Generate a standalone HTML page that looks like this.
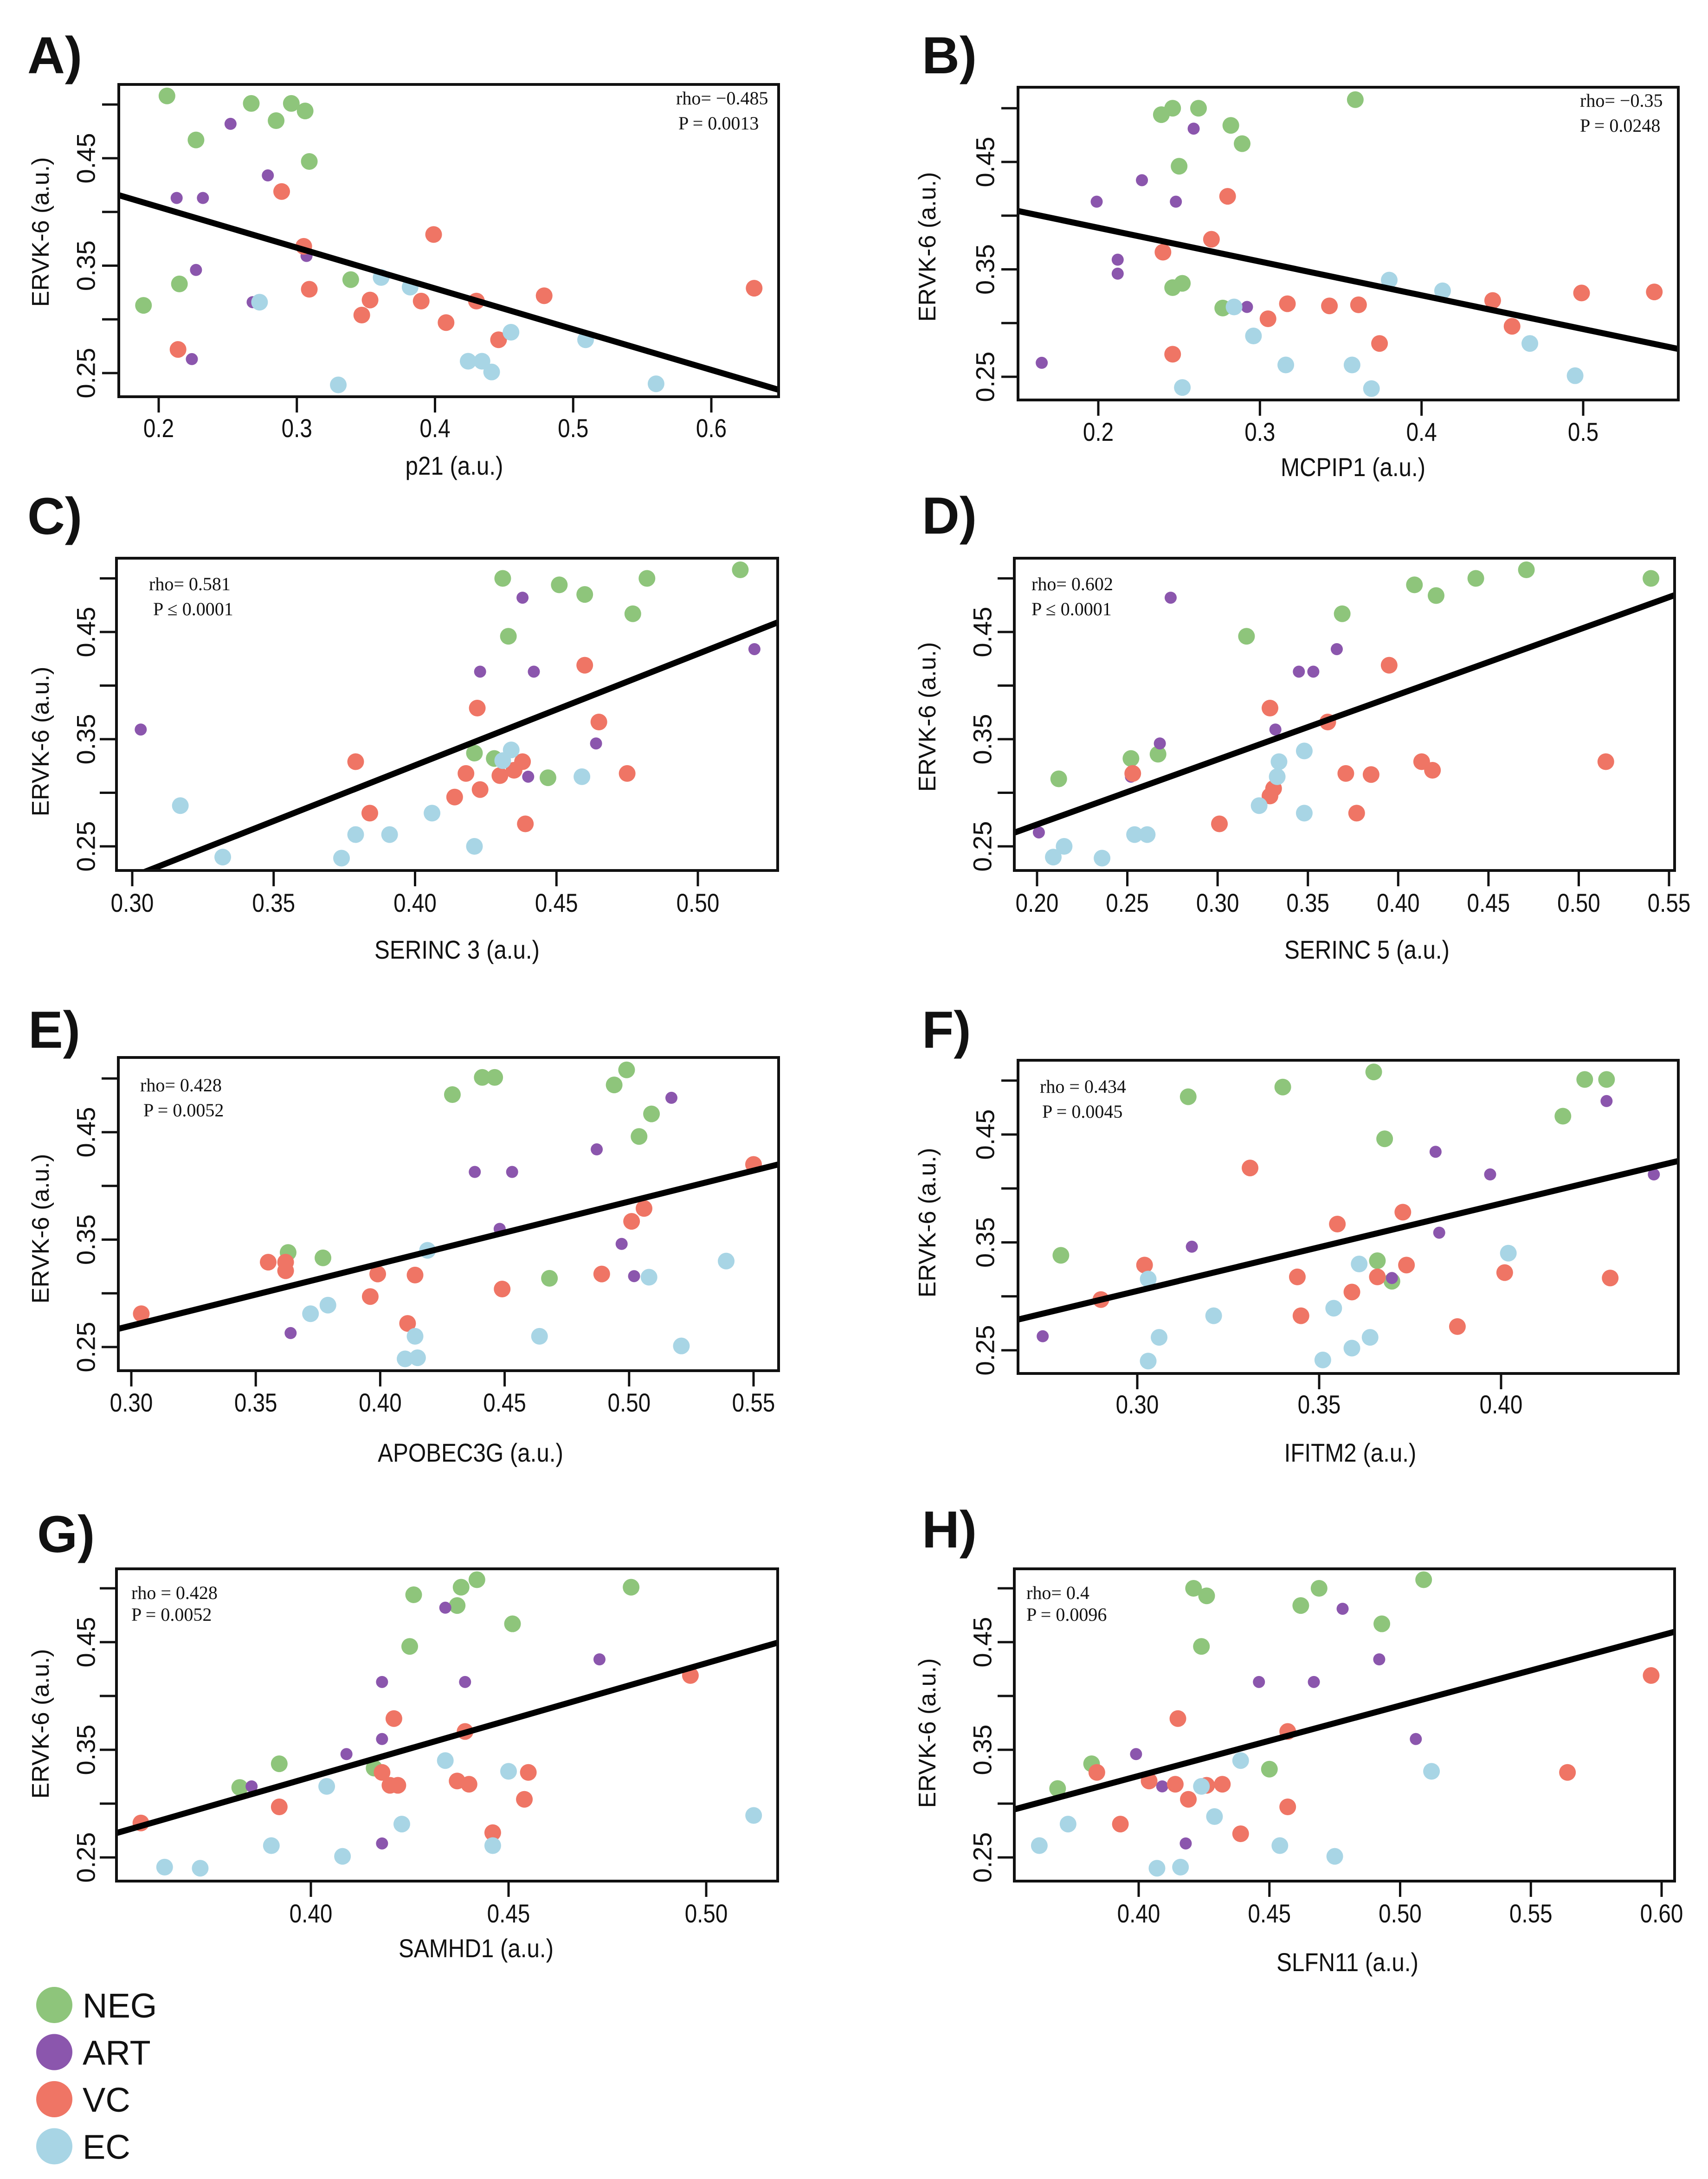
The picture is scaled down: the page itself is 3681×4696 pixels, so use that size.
<!DOCTYPE html>
<html><head><meta charset="utf-8"><style>
html,body{margin:0;padding:0;background:#fff}
svg{display:block}
text{font-family:"Liberation Sans",Arial,sans-serif;fill:#111}
.serif{font-family:"Liberation Serif","Times New Roman",serif}
</style></head><body>
<svg id="fig" xmlns="http://www.w3.org/2000/svg" width="3681" height="4696" viewBox="0 0 3681 4696"></svg>
<script>
// group of each subject (same order in every panel): NEG x10, ART x8, VC x13, EC x10
const groups = ["NEG","NEG","NEG","NEG","NEG","NEG","NEG","NEG","NEG","NEG",
 "ART","ART","ART","ART","ART","ART","ART","ART",
 "VC","VC","VC","VC","VC","VC","VC","VC","VC","VC","VC","VC","VC",
 "EC","EC","EC","EC","EC","EC","EC","EC","EC","EC"];
const groupNames = ["NEG","ART","VC","EC"];
const groupColors = {NEG:"#8ec57b",ART:"#8b56ad",VC:"#ef7565",EC:"#a8d5e5"};

const yTicks = [0.25,0.30,0.35,0.40,0.45,0.50];
const yTickLabels = ["0.25","","0.35","","0.45",""];

const A_x = [0.206,0.267,0.296,0.306,0.285,0.227,0.309,0.339,0.215,0.189, 0.252,0.279,0.213,0.232,0.307,0.227,0.268,0.224, 0.289,0.399,0.305,0.309,0.353,0.390,0.430,0.479,0.631,0.347,0.408,0.446,0.214, 0.273,0.361,0.382,0.455,0.509,0.424,0.434,0.441,0.330,0.560];
const A_y = [0.508,0.501,0.501,0.494,0.485,0.467,0.447,0.337,0.333,0.313, 0.482,0.434,0.413,0.413,0.359,0.346,0.316,0.263, 0.419,0.379,0.368,0.328,0.318,0.317,0.317,0.322,0.329,0.304,0.297,0.281,0.272, 0.316,0.339,0.330,0.288,0.281,0.261,0.261,0.251,0.239,0.240];
const B_x = [0.359,0.246,0.262,0.239,0.282,0.289,0.250,0.252,0.246,0.277, 0.259,0.227,0.199,0.248,0.212,0.212,0.292,0.165, 0.280,0.270,0.240,0.317,0.343,0.361,0.444,0.499,0.544,0.305,0.456,0.374,0.246, 0.284,0.380,0.413,0.296,0.467,0.316,0.357,0.495,0.252,0.369];
const B_y = [0.508,0.500,0.500,0.494,0.484,0.467,0.446,0.337,0.333,0.314, 0.481,0.433,0.413,0.413,0.359,0.346,0.315,0.263, 0.418,0.378,0.366,0.318,0.316,0.317,0.321,0.328,0.329,0.304,0.297,0.281,0.271, 0.315,0.340,0.330,0.288,0.281,0.261,0.261,0.251,0.240,0.239];
const C_x = [0.515,0.431,0.482,0.451,0.460,0.477,0.433,0.421,0.428,0.447, 0.438,0.520,0.423,0.442,0.303,0.464,0.440,0.379, 0.460,0.422,0.465,0.379,0.438,0.435,0.418,0.430,0.475,0.423,0.414,0.384,0.439, 0.434,0.431,0.459,0.317,0.406,0.379,0.391,0.421,0.332,0.374];
const C_y = [0.508,0.500,0.500,0.494,0.485,0.467,0.446,0.337,0.332,0.314, 0.482,0.434,0.413,0.413,0.359,0.346,0.315,0.263, 0.419,0.379,0.366,0.329,0.329,0.321,0.318,0.316,0.318,0.303,0.296,0.281,0.271, 0.340,0.330,0.315,0.288,0.281,0.261,0.261,0.250,0.240,0.239];
const D_x = [0.471,0.443,0.540,0.409,0.421,0.369,0.316,0.267,0.252,0.212, 0.274,0.366,0.345,0.353,0.332,0.268,0.252,0.201, 0.395,0.329,0.361,0.413,0.515,0.419,0.371,0.385,0.253,0.331,0.329,0.377,0.301, 0.348,0.334,0.333,0.323,0.348,0.254,0.261,0.215,0.209,0.236];
const D_y = [0.508,0.500,0.500,0.494,0.484,0.467,0.446,0.336,0.332,0.313, 0.482,0.434,0.413,0.413,0.359,0.346,0.315,0.263, 0.419,0.379,0.366,0.329,0.329,0.321,0.318,0.317,0.318,0.304,0.297,0.281,0.271, 0.339,0.329,0.315,0.288,0.281,0.261,0.261,0.250,0.240,0.239];
const E_x = [0.499,0.441,0.446,0.494,0.429,0.509,0.504,0.363,0.377,0.468, 0.517,0.487,0.438,0.453,0.448,0.497,0.502,0.364, 0.550,0.506,0.501,0.355,0.362,0.362,0.399,0.414,0.489,0.449,0.396,0.411,0.304, 0.419,0.539,0.508,0.379,0.372,0.414,0.464,0.521,0.410,0.415];
const E_y = [0.508,0.501,0.501,0.494,0.485,0.467,0.446,0.338,0.333,0.314, 0.482,0.434,0.413,0.413,0.360,0.346,0.316,0.263, 0.420,0.379,0.367,0.329,0.329,0.321,0.318,0.317,0.318,0.304,0.297,0.272,0.281, 0.340,0.330,0.315,0.289,0.281,0.260,0.260,0.251,0.239,0.240];
const F_x = [0.365,0.340,0.423,0.429,0.314,0.417,0.368,0.279,0.366,0.370, 0.429,0.382,0.397,0.442,0.383,0.315,0.370,0.274, 0.331,0.373,0.355,0.302,0.374,0.401,0.430,0.344,0.366,0.359,0.290,0.345,0.388, 0.402,0.361,0.303,0.354,0.321,0.364,0.306,0.359,0.351,0.303];
const F_y = [0.508,0.494,0.501,0.501,0.485,0.467,0.446,0.338,0.333,0.314, 0.481,0.434,0.413,0.413,0.359,0.346,0.317,0.263, 0.419,0.378,0.367,0.329,0.329,0.322,0.317,0.318,0.318,0.304,0.297,0.282,0.272, 0.340,0.330,0.316,0.289,0.282,0.262,0.262,0.252,0.241,0.240];
const G_x = [0.442,0.438,0.481,0.426,0.437,0.451,0.425,0.392,0.416,0.382, 0.434,0.473,0.418,0.439,0.418,0.409,0.385,0.418, 0.496,0.421,0.439,0.418,0.455,0.437,0.440,0.420,0.422,0.454,0.392,0.357,0.446, 0.434,0.450,0.404,0.512,0.423,0.390,0.446,0.408,0.363,0.372];
const G_y = [0.508,0.501,0.501,0.494,0.484,0.467,0.446,0.337,0.333,0.315, 0.482,0.434,0.413,0.413,0.360,0.346,0.316,0.263, 0.419,0.379,0.367,0.329,0.329,0.321,0.318,0.317,0.317,0.304,0.297,0.282,0.273, 0.340,0.330,0.316,0.289,0.281,0.261,0.261,0.251,0.241,0.240];
const H_x = [0.509,0.421,0.469,0.426,0.462,0.493,0.424,0.382,0.450,0.369, 0.478,0.492,0.446,0.467,0.506,0.399,0.409,0.418, 0.596,0.415,0.457,0.384,0.564,0.404,0.414,0.426,0.432,0.419,0.457,0.393,0.439, 0.439,0.512,0.424,0.429,0.373,0.362,0.454,0.475,0.407,0.416];
const H_y = [0.508,0.500,0.500,0.493,0.484,0.467,0.446,0.337,0.332,0.314, 0.481,0.434,0.413,0.413,0.360,0.346,0.316,0.263, 0.419,0.379,0.367,0.329,0.329,0.321,0.318,0.317,0.318,0.304,0.297,0.281,0.272, 0.340,0.330,0.316,0.288,0.281,0.261,0.261,0.251,0.240,0.241];

// regression fits [intercept, slope]
const A_fit = [0.4805,-0.3793];
const B_fit = [0.4516,-0.3144];
const C_fit = [-0.0904,1.040];
const D_fit = [0.1492,0.606];
const E_fit = [0.0968,0.5772];
const F_fit = [0.0620,0.810];
const G_fit = [-0.0983,1.0574];
const H_fit = [0.0644,0.6533];

const A_xticks = [0.2,0.3,0.4,0.5,0.6];
const B_xticks = [0.2,0.3,0.4,0.5];
const C_xticks = [0.30,0.35,0.40,0.45,0.50];
const D_xticks = [0.20,0.25,0.30,0.35,0.40,0.45,0.50,0.55];
const E_xticks = [0.30,0.35,0.40,0.45,0.50,0.55];
const F_xticks = [0.30,0.35,0.40];
const G_xticks = [0.40,0.45,0.50];
const H_xticks = [0.40,0.45,0.50,0.55,0.60];

const stats = {
 A:["rho=  \u22120.485","P =  0.0013"], B:["rho=  \u22120.35","P =  0.0248"],
 C:["rho=  0.581","P \u2264 0.0001"], D:["rho=  0.602","P \u2264 0.0001"],
 E:["rho=  0.428","P =  0.0052"], F:["rho =  0.434","P =  0.0045"],
 G:["rho =  0.428","P =  0.0052"], H:["rho=  0.4"," P =  0.0096"]
};

const NS="http://www.w3.org/2000/svg";
const svg=document.getElementById('fig');
function mk(tag,attrs,parent){const e=document.createElementNS(NS,tag);for(const k in attrs)e.setAttribute(k,attrs[k]);(parent||svg).appendChild(e);return e;}

// layout (pixel calibration) per panel
const panels = [
 {id:"A",xs:A_x,ys:A_y,fit:A_fit,xt:A_xticks,dec:1,xlab:"p21 (a.u.)",frame:[256,182,1678,855],xc:[0.2,342,0.6,1533],yc:[0.25,804,0.45,341],lab:[59,158],ytl:185,yt:88,ytc:500,xtb:942,xlb:1023,xlc:979,st:[1457,225,1462,279],stA:"start"},
 {id:"B",xs:B_x,ys:B_y,fit:B_fit,xt:B_xticks,dec:1,xlab:"MCPIP1 (a.u.)",frame:[2194,188,3617,862],xc:[0.2,2367,0.5,3412],yc:[0.25,812,0.45,349],lab:[1987,158],ytl:2123,yt:1999,ytc:532,xtb:950,xlb:1026,xlc:2916,st:[3405,230,3405,284]},
 {id:"C",xs:C_x,ys:C_y,fit:C_fit,xt:C_xticks,dec:2,xlab:"SERINC 3 (a.u.)",frame:[251,1203,1676,1876],xc:[0.30,285,0.50,1504],yc:[0.25,1824,0.45,1362],lab:[59,1151],ytl:185,yt:88,ytc:1598,xtb:1965,xlb:2066,xlc:985,st:[321,1272,330,1326]},
 {id:"D",xs:D_x,ys:D_y,fit:D_fit,xt:D_xticks,dec:2,xlab:"SERINC 5 (a.u.)",frame:[2186,1203,3609,1876],xc:[0.20,2235,0.55,3597],yc:[0.25,1824,0.45,1362],lab:[1987,1150],ytl:2117,yt:1999,ytc:1545,xtb:1965,xlb:2066,xlc:2946,st:[2223,1272,2223,1326]},
 {id:"E",xs:E_x,ys:E_y,fit:E_fit,xt:E_xticks,dec:2,xlab:"APOBEC3G (a.u.)",frame:[255,2279,1678,2954],xc:[0.30,283,0.55,1624],yc:[0.25,2903,0.45,2440],lab:[61,2258],ytl:185,yt:88,ytc:2648,xtb:3042,xlb:3150,xlc:1014,st:[302,2352,309,2406]},
 {id:"F",xs:F_x,ys:F_y,fit:F_fit,xt:F_xticks,dec:2,xlab:"IFITM2 (a.u.)",frame:[2194,2285,3617,2960],xc:[0.30,2451,0.40,3235],yc:[0.25,2910,0.45,2445],lab:[1987,2258],ytl:2123,yt:1999,ytc:2635,xtb:3046,xlb:3150,xlc:2910,st:[2241,2355,2246,2409]},
 {id:"G",xs:G_x,ys:G_y,fit:G_fit,xt:G_xticks,dec:2,xlab:"SAMHD1 (a.u.)",frame:[251,3381,1676,4054],xc:[0.40,670,0.50,1522],yc:[0.25,4003,0.45,3539],lab:[80,3345],ytl:185,yt:88,ytc:3715,xtb:4143,xlb:4218,xlc:1026,st:[283,3446,283,3493]},
 {id:"H",xs:H_x,ys:H_y,fit:H_fit,xt:H_xticks,dec:2,xlab:"SLFN11 (a.u.)",frame:[2186,3381,3609,4054],xc:[0.40,2454,0.60,3581],yc:[0.25,4003,0.45,3539],lab:[1987,3335],ytl:2117,yt:1999,ytc:3735,xtb:4143,xlb:4248,xlc:2904,st:[2212,3446,2212,3493]}
];

panels.forEach(p=>{
 const g=mk('g',{});
 
 
 const sx=v=>p.xc[1]+(v-p.xc[0])*(p.xc[3]-p.xc[1])/(p.xc[2]-p.xc[0]);
 const sy=v=>p.yc[1]+(v-p.yc[0])*(p.yc[3]-p.yc[1])/(p.yc[2]-p.yc[0]);
 const [l,t,r,b]=p.frame;
 // panel letter
 const pl=mk('text',{x:p.lab[0],y:p.lab[1],'font-size':112,'font-weight':'bold'},g);
 pl.textContent=p.id+")";
 
 
 // clip
 const cp=mk('clipPath',{id:'clip'+p.id},g);
 mk('rect',{x:l,y:t,width:r-l,height:b-t},cp);
 // y ticks
 yTicks.forEach((v,i)=>{
  const tk=mk('line',{x1:l-36,x2:l,y1:sy(v),y2:sy(v),stroke:'#111','stroke-width':5},g);
  
  
  if(yTickLabels[i]){
   const tl=mk('text',{x:p.ytl,y:sy(v),'font-size':56,'text-anchor':'middle','dominant-baseline':'central',transform:`rotate(-90 ${p.ytl} ${sy(v)})`},g);
   tl.textContent=yTickLabels[i];
   
   
  }
 });
 // x ticks
 p.xt.forEach(v=>{
  const tk=mk('line',{x1:sx(v),x2:sx(v),y1:b,y2:b+34,stroke:'#111','stroke-width':5},g);
  
  
  const tl=mk('text',{x:sx(v),y:p.xtb,'font-size':56,'text-anchor':'middle',transform:`translate(${sx(v)} 0) scale(0.85 1) translate(${-sx(v)} 0)`},g);
  tl.textContent=v.toFixed(p.dec);
  
  
 });
 // axis titles
 const yl=mk('text',{x:p.yt,y:p.ytc,'font-size':52,'text-anchor':'middle','dominant-baseline':'central',transform:`rotate(-90 ${p.yt} ${p.ytc})`},g);
 yl.textContent="ERVK-6 (a.u.)";
 
 
 const xl=mk('text',{x:p.xlc,y:p.xlb,'font-size':56,'text-anchor':'middle',transform:`translate(${p.xlc} 0) scale(0.88 1) translate(${-p.xlc} 0)`},g);
 xl.textContent=p.xlab;
 
 
 // points
 const pts=mk('g',{'clip-path':`url(#clip${p.id})`},g);
 
 
 p.xs.forEach((xv,i)=>{
  const grp=groups[i];
  const c=mk('circle',{cx:sx(xv),cy:sy(p.ys[i]),r:grp==="ART"?13:18,fill:groupColors[grp]},pts);
  
  
 });
 // regression line
 const f=v=>p.fit[0]+p.fit[1]*v;
 const x0=p.xc[0]+(l-p.xc[1])*(p.xc[2]-p.xc[0])/(p.xc[3]-p.xc[1]);
 const x1=p.xc[0]+(r-p.xc[1])*(p.xc[2]-p.xc[0])/(p.xc[3]-p.xc[1]);
 const rl=mk('line',{x1:sx(x0),y1:sy(f(x0)),x2:sx(x1),y2:sy(f(x1)),stroke:'#000','stroke-width':13,'clip-path':`url(#clip${p.id})`},g);
 
 
 // frame
 const fr=mk('rect',{x:l,y:t,width:r-l,height:b-t,fill:'none',stroke:'#111','stroke-width':6},g);
 
 
 // stats
 const s1=mk('text',{x:p.st[0],y:p.st[1],'font-size':40,class:'serif'},g);
 s1.textContent=stats[p.id][0];
 
 
 const s2=mk('text',{x:p.st[2],y:p.st[3],'font-size':40,class:'serif'},g);
 s2.textContent=stats[p.id][1];
 
 
});

// legend
const lg=mk('g',{});


groupNames.forEach((nm,i)=>{
 const cy=4321+i*101.5;
 const c=mk('ellipse',{cx:117,cy:cy,rx:39,ry:39,fill:groupColors[nm]},lg);
 
 
 const t=mk('text',{x:178,y:cy+27,'font-size':74},lg);
 t.textContent=nm;
 
 
});
</script>
</body></html>
